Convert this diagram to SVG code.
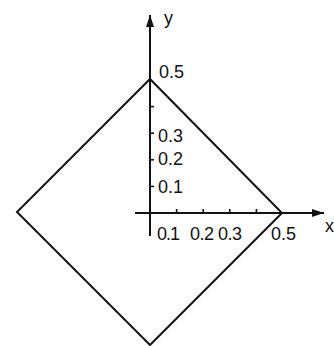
<svg xmlns="http://www.w3.org/2000/svg" width="334" height="346" viewBox="0 0 334 346">
<style>
.ln{stroke:#111;stroke-width:2;fill:none;stroke-linejoin:miter}
.tk{stroke:#111;stroke-width:1.6}
text{font-family:"Liberation Sans",Arial,sans-serif;font-size:18px;fill:#111}
</style>
<defs>
<marker id="ah" viewBox="0 0 12 8" refX="12" refY="4" markerWidth="12" markerHeight="8" markerUnits="userSpaceOnUse" orient="auto">
<path d="M0,0 L12,4 L0,8 Z" fill="#111"/>
</marker>
</defs>
<rect width="334" height="346" fill="#fff"/>
<g id="axes">
<line class="ln" x1="150" y1="236" x2="150" y2="15" marker-end="url(#ah)"/>
<line class="ln" x1="135" y1="213" x2="324" y2="213" marker-end="url(#ah)"/>
<line class="tk" x1="150" y1="186.4" x2="154" y2="186.4"/>
<line class="tk" x1="150" y1="159.8" x2="154" y2="159.8"/>
<line class="tk" x1="150" y1="133.2" x2="154" y2="133.2"/>
<line class="tk" x1="150" y1="106.6" x2="154" y2="106.6"/>
<line class="tk" x1="176.6" y1="213" x2="176.6" y2="209"/>
<line class="tk" x1="203.2" y1="213" x2="203.2" y2="209"/>
<line class="tk" x1="229.8" y1="213" x2="229.8" y2="209"/>
<line class="tk" x1="256.4" y1="213" x2="256.4" y2="209"/>
</g>
<g id="diamond">
<path class="ln" d="M150,79 L282,213 L150,345 L17,212 Z"/>
</g>
<g id="labels">
<text x="164" y="24">y</text>
<text x="325" y="232">x</text>
<text x="159" y="78">0.5</text>
<text x="158" y="142">0.3</text>
<text x="158" y="165">0.2</text>
<text x="158" y="193">0.1</text>
<text x="157" y="240" letter-spacing="-1">0.1</text>
<text x="190" y="240" letter-spacing="-0.5">0.2</text>
<text x="218" y="240" letter-spacing="-0.5">0.3</text>
<text x="271" y="240">0.5</text>
</g>
</svg>
